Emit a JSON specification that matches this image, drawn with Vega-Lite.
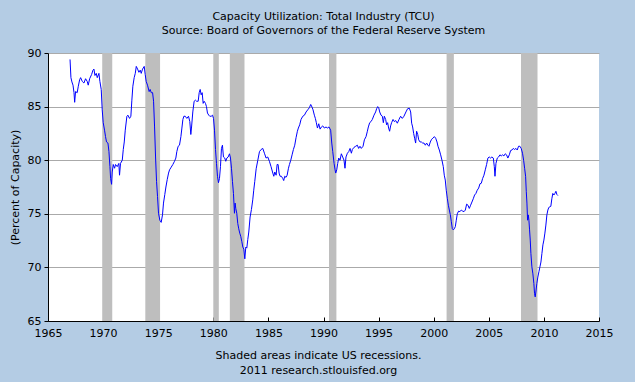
{
 "$schema": "https://vega.github.io/schema/vega-lite/v6.json",
 "width": 551,
 "height": 268,
 "autosize": {"type": "none"},
 "padding": {"left": 48, "top": 53, "right": 36, "bottom": 61},
 "background": "#B4CCE4",
 "config": {"view": {"stroke": null, "fill": "white"}, "font": "DejaVu Sans"},
 "title": {"text": "Capacity Utilization: Total Industry (TCU)", "subtitle": "Source: Board of Governors of the Federal Reserve System", "fontSize": 11, "fontWeight": "normal", "subtitleFontSize": 11, "color": "black", "subtitleColor": "black", "offset": 11, "subtitlePadding": 3, "font": "DejaVu Sans", "subtitleFont": "DejaVu Sans"},
 "datasets": {
  "rec": [
   {"start": 1969.92, "end": 1970.83},
   {"start": 1973.83, "end": 1975.17},
   {"start": 1980.0, "end": 1980.5},
   {"start": 1981.5, "end": 1982.83},
   {"start": 1990.5, "end": 1991.17},
   {"start": 2001.17, "end": 2001.83},
   {"start": 2007.92, "end": 2009.42}
  ],
  "tcu": [
   {"year":1967.00,"value":89.4},{"year":1967.08,"value":87.7},{"year":1967.17,"value":87.3},{"year":1967.27,"value":87.0},{"year":1967.36,"value":86.3},{"year":1967.42,"value":85.4},{"year":1967.50,"value":86.4},{"year":1967.65,"value":86.3},{"year":1967.75,"value":86.9},{"year":1967.87,"value":87.5},{"year":1967.96,"value":87.7},
   {"year":1968.11,"value":87.35},{"year":1968.26,"value":87.2},{"year":1968.41,"value":87.6},{"year":1968.56,"value":87.35},{"year":1968.65,"value":87.0},{"year":1968.78,"value":87.6},{"year":1968.96,"value":88.0},
   {"year":1969.08,"value":88.4},{"year":1969.17,"value":88.5},{"year":1969.26,"value":87.9},{"year":1969.38,"value":88.1},{"year":1969.47,"value":87.7},{"year":1969.62,"value":88.1},{"year":1969.71,"value":87.35},{"year":1969.83,"value":86.6},{"year":1969.92,"value":84.7},
   {"year":1970.01,"value":83.5},{"year":1970.13,"value":82.8},{"year":1970.22,"value":82.2},{"year":1970.31,"value":81.7},{"year":1970.44,"value":81.6},{"year":1970.53,"value":80.8},{"year":1970.62,"value":79.4},{"year":1970.68,"value":78.3},{"year":1970.77,"value":77.75},{"year":1970.83,"value":78.9},{"year":1970.92,"value":79.6},
   {"year":1971.04,"value":79.25},{"year":1971.13,"value":79.6},{"year":1971.28,"value":79.4},{"year":1971.43,"value":79.7},{"year":1971.49,"value":78.6},{"year":1971.58,"value":79.7},{"year":1971.74,"value":80.0},{"year":1971.83,"value":81.0},{"year":1971.92,"value":81.7},
   {"year":1972.01,"value":82.8},{"year":1972.16,"value":84.1},{"year":1972.25,"value":84.2},{"year":1972.40,"value":83.9},{"year":1972.52,"value":84.1},{"year":1972.61,"value":85.6},{"year":1972.70,"value":86.9},{"year":1972.82,"value":87.7},{"year":1972.92,"value":88.1},
   {"year":1973.01,"value":88.75},{"year":1973.13,"value":88.5},{"year":1973.25,"value":88.2},{"year":1973.37,"value":88.4},{"year":1973.46,"value":88.1},{"year":1973.58,"value":88.5},{"year":1973.73,"value":88.75},{"year":1973.82,"value":88.0},{"year":1973.91,"value":87.35},
   {"year":1974.03,"value":87.0},{"year":1974.18,"value":86.4},{"year":1974.27,"value":86.6},{"year":1974.37,"value":86.3},{"year":1974.49,"value":86.3},{"year":1974.58,"value":85.5},{"year":1974.67,"value":83.1},{"year":1974.76,"value":80.3},{"year":1974.85,"value":78.0},{"year":1974.94,"value":76.6},
   {"year":1975.03,"value":75.05},{"year":1975.15,"value":74.4},{"year":1975.27,"value":74.2},{"year":1975.39,"value":74.9},{"year":1975.48,"value":76.0},{"year":1975.60,"value":76.8},{"year":1975.70,"value":77.5},{"year":1975.82,"value":78.2},{"year":1975.94,"value":78.8},
   {"year":1976.03,"value":79.1},{"year":1976.18,"value":79.35},{"year":1976.33,"value":79.6},{"year":1976.48,"value":79.9},{"year":1976.60,"value":80.2},{"year":1976.69,"value":80.8},{"year":1976.81,"value":81.3},{"year":1976.93,"value":81.4},
   {"year":1977.06,"value":82.2},{"year":1977.15,"value":83.0},{"year":1977.24,"value":83.8},{"year":1977.33,"value":84.1},{"year":1977.45,"value":84.1},{"year":1977.60,"value":83.9},{"year":1977.75,"value":84.1},{"year":1977.87,"value":83.6},{"year":1977.96,"value":82.4},
   {"year":1978.02,"value":83.0},{"year":1978.14,"value":84.5},{"year":1978.26,"value":85.5},{"year":1978.38,"value":85.6},{"year":1978.48,"value":85.5},{"year":1978.63,"value":85.5},{"year":1978.72,"value":86.3},{"year":1978.81,"value":86.6},{"year":1978.90,"value":86.1},{"year":1978.99,"value":86.3},
   {"year":1979.08,"value":85.3},{"year":1979.17,"value":85.5},{"year":1979.29,"value":85.3},{"year":1979.38,"value":85.0},{"year":1979.47,"value":84.4},{"year":1979.59,"value":84.2},{"year":1979.68,"value":84.1},{"year":1979.81,"value":84.1},{"year":1979.93,"value":84.2},
   {"year":1980.02,"value":83.9},{"year":1980.11,"value":82.8},{"year":1980.20,"value":81.0},{"year":1980.29,"value":79.7},{"year":1980.38,"value":78.5},{"year":1980.47,"value":77.9},{"year":1980.56,"value":78.3},{"year":1980.65,"value":79.4},{"year":1980.74,"value":81.1},{"year":1980.83,"value":81.4},{"year":1980.92,"value":80.3},
   {"year":1981.04,"value":80.2},{"year":1981.13,"value":79.9},{"year":1981.23,"value":80.2},{"year":1981.35,"value":80.3},{"year":1981.47,"value":80.6},{"year":1981.56,"value":80.2},{"year":1981.65,"value":79.25},{"year":1981.74,"value":78.0},{"year":1981.83,"value":76.9},{"year":1981.92,"value":75.05},{"year":1981.98,"value":76.0},
   {"year":1982.04,"value":75.5},{"year":1982.13,"value":75.05},{"year":1982.22,"value":74.1},{"year":1982.31,"value":73.6},{"year":1982.40,"value":73.2},{"year":1982.49,"value":72.9},{"year":1982.59,"value":72.4},{"year":1982.68,"value":71.9},{"year":1982.77,"value":71.7},{"year":1982.86,"value":70.8},{"year":1982.95,"value":71.9},
   {"year":1983.04,"value":71.8},{"year":1983.13,"value":72.6},{"year":1983.22,"value":73.3},{"year":1983.34,"value":74.7},{"year":1983.46,"value":75.4},{"year":1983.58,"value":76.3},{"year":1983.67,"value":77.2},{"year":1983.76,"value":78.0},{"year":1983.89,"value":79.2},
   {"year":1984.04,"value":80.0},{"year":1984.19,"value":80.8},{"year":1984.34,"value":81.0},{"year":1984.49,"value":81.1},{"year":1984.64,"value":80.65},{"year":1984.79,"value":80.2},{"year":1984.94,"value":80.3},
   {"year":1985.09,"value":79.9},{"year":1985.24,"value":79.4},{"year":1985.40,"value":78.8},{"year":1985.49,"value":78.5},{"year":1985.58,"value":78.9},{"year":1985.70,"value":78.6},{"year":1985.79,"value":79.6},{"year":1985.88,"value":79.6},{"year":1985.97,"value":78.8},
   {"year":1986.06,"value":78.5},{"year":1986.18,"value":78.5},{"year":1986.30,"value":78.3},{"year":1986.39,"value":78.1},{"year":1986.48,"value":78.5},{"year":1986.60,"value":78.4},{"year":1986.70,"value":78.6},{"year":1986.82,"value":79.25},{"year":1986.91,"value":79.6},
   {"year":1987.03,"value":80.0},{"year":1987.15,"value":80.5},{"year":1987.27,"value":81.0},{"year":1987.39,"value":81.4},{"year":1987.51,"value":82.1},{"year":1987.63,"value":82.7},{"year":1987.72,"value":83.0},{"year":1987.84,"value":83.3},{"year":1987.96,"value":83.8},
   {"year":1988.12,"value":84.1},{"year":1988.27,"value":84.2},{"year":1988.42,"value":84.5},{"year":1988.57,"value":84.7},{"year":1988.72,"value":84.9},{"year":1988.84,"value":85.2},{"year":1988.96,"value":84.95},
   {"year":1989.05,"value":84.7},{"year":1989.17,"value":84.2},{"year":1989.26,"value":83.9},{"year":1989.35,"value":83.5},{"year":1989.45,"value":83.0},{"year":1989.57,"value":83.4},{"year":1989.69,"value":82.9},{"year":1989.81,"value":83.1},{"year":1989.93,"value":83.2},
   {"year":1990.08,"value":83.0},{"year":1990.23,"value":83.1},{"year":1990.35,"value":83.0},{"year":1990.50,"value":83.1},{"year":1990.65,"value":82.8},{"year":1990.75,"value":81.6},{"year":1990.84,"value":80.8},{"year":1990.96,"value":79.7},
   {"year":1991.05,"value":79.1},{"year":1991.11,"value":78.8},{"year":1991.20,"value":79.1},{"year":1991.29,"value":79.7},{"year":1991.38,"value":80.2},{"year":1991.50,"value":80.0},{"year":1991.62,"value":80.6},{"year":1991.74,"value":80.3},{"year":1991.86,"value":80.0},{"year":1991.95,"value":79.25},
   {"year":1992.04,"value":80.3},{"year":1992.17,"value":80.65},{"year":1992.29,"value":80.8},{"year":1992.41,"value":81.1},{"year":1992.53,"value":80.65},{"year":1992.62,"value":81.0},{"year":1992.77,"value":81.2},{"year":1992.92,"value":81.3},
   {"year":1993.07,"value":81.4},{"year":1993.19,"value":81.1},{"year":1993.31,"value":81.3},{"year":1993.43,"value":81.1},{"year":1993.59,"value":81.3},{"year":1993.71,"value":81.9},{"year":1993.86,"value":82.2},{"year":1993.98,"value":82.7},
   {"year":1994.07,"value":83.1},{"year":1994.19,"value":83.5},{"year":1994.31,"value":83.6},{"year":1994.43,"value":83.8},{"year":1994.58,"value":84.2},{"year":1994.73,"value":84.5},{"year":1994.82,"value":84.8},{"year":1994.92,"value":85.0},
   {"year":1995.01,"value":84.9},{"year":1995.10,"value":84.5},{"year":1995.22,"value":84.2},{"year":1995.34,"value":84.1},{"year":1995.43,"value":83.5},{"year":1995.52,"value":84.1},{"year":1995.64,"value":83.8},{"year":1995.73,"value":83.3},{"year":1995.82,"value":83.5},{"year":1995.91,"value":83.0},
   {"year":1996.00,"value":82.7},{"year":1996.09,"value":83.2},{"year":1996.18,"value":83.5},{"year":1996.31,"value":83.8},{"year":1996.43,"value":83.6},{"year":1996.55,"value":83.7},{"year":1996.70,"value":83.45},{"year":1996.85,"value":83.8},
   {"year":1997.00,"value":84.1},{"year":1997.15,"value":83.9},{"year":1997.30,"value":84.1},{"year":1997.48,"value":84.5},{"year":1997.63,"value":84.8},{"year":1997.79,"value":84.85},{"year":1997.91,"value":84.5},
   {"year":1998.00,"value":83.45},{"year":1998.09,"value":83.1},{"year":1998.18,"value":82.5},{"year":1998.27,"value":82.05},{"year":1998.36,"value":81.6},{"year":1998.45,"value":82.7},{"year":1998.55,"value":82.4},{"year":1998.64,"value":81.9},{"year":1998.76,"value":81.7},{"year":1998.88,"value":81.7},
   {"year":1999.00,"value":81.6},{"year":1999.12,"value":81.6},{"year":1999.24,"value":81.4},{"year":1999.36,"value":81.6},{"year":1999.48,"value":81.4},{"year":1999.57,"value":81.3},{"year":1999.69,"value":81.7},{"year":1999.81,"value":81.95},{"year":1999.93,"value":82.05},
   {"year":2000.06,"value":82.2},{"year":2000.18,"value":82.05},{"year":2000.30,"value":81.7},{"year":2000.39,"value":81.3},{"year":2000.51,"value":80.95},{"year":2000.63,"value":80.5},{"year":2000.75,"value":80.0},{"year":2000.87,"value":79.4},{"year":2000.96,"value":78.6},
   {"year":2001.05,"value":78.15},{"year":2001.14,"value":77.2},{"year":2001.24,"value":76.4},{"year":2001.33,"value":75.8},{"year":2001.42,"value":75.35},{"year":2001.51,"value":74.9},{"year":2001.60,"value":74.26},{"year":2001.69,"value":73.6},{"year":2001.78,"value":73.5},{"year":2001.87,"value":73.6},{"year":2001.96,"value":73.8},
   {"year":2002.05,"value":74.4},{"year":2002.14,"value":75.0},{"year":2002.26,"value":75.25},{"year":2002.38,"value":75.2},{"year":2002.50,"value":75.35},{"year":2002.63,"value":75.25},{"year":2002.75,"value":75.2},{"year":2002.87,"value":75.35},{"year":2002.99,"value":75.9},
   {"year":2003.11,"value":75.8},{"year":2003.23,"value":75.5},{"year":2003.35,"value":75.8},{"year":2003.47,"value":76.1},{"year":2003.59,"value":76.4},{"year":2003.71,"value":76.75},{"year":2003.83,"value":76.9},{"year":2003.95,"value":77.2},
   {"year":2004.08,"value":77.4},{"year":2004.20,"value":77.8},{"year":2004.32,"value":77.85},{"year":2004.44,"value":78.3},{"year":2004.56,"value":78.6},{"year":2004.68,"value":79.1},{"year":2004.80,"value":79.6},{"year":2004.92,"value":80.2},
   {"year":2005.04,"value":80.3},{"year":2005.16,"value":80.2},{"year":2005.28,"value":80.3},{"year":2005.41,"value":80.2},{"year":2005.50,"value":79.4},{"year":2005.56,"value":78.5},{"year":2005.65,"value":79.7},{"year":2005.77,"value":80.2},{"year":2005.89,"value":80.3},
   {"year":2006.01,"value":80.5},{"year":2006.13,"value":80.4},{"year":2006.25,"value":80.5},{"year":2006.37,"value":80.4},{"year":2006.49,"value":80.6},{"year":2006.61,"value":80.5},{"year":2006.73,"value":80.2},{"year":2006.86,"value":80.5},{"year":2006.98,"value":80.9},
   {"year":2007.10,"value":80.95},{"year":2007.22,"value":81.1},{"year":2007.34,"value":81.0},{"year":2007.46,"value":81.1},{"year":2007.58,"value":80.95},{"year":2007.70,"value":81.3},{"year":2007.82,"value":81.3},{"year":2007.94,"value":81.1},
   {"year":2008.06,"value":80.65},{"year":2008.16,"value":80.0},{"year":2008.25,"value":79.25},{"year":2008.34,"value":78.5},{"year":2008.40,"value":77.1},{"year":2008.46,"value":76.0},{"year":2008.52,"value":74.4},{"year":2008.58,"value":74.9},{"year":2008.64,"value":74.4},{"year":2008.70,"value":73.5},{"year":2008.76,"value":72.55},{"year":2008.82,"value":71.3},{"year":2008.91,"value":70.05},
   {"year":2009.00,"value":69.4},{"year":2009.09,"value":68.5},{"year":2009.15,"value":67.55},{"year":2009.21,"value":67.25},{"year":2009.27,"value":67.7},{"year":2009.36,"value":68.5},{"year":2009.45,"value":69.1},{"year":2009.55,"value":69.6},{"year":2009.64,"value":70.05},{"year":2009.73,"value":70.5},{"year":2009.82,"value":71.3},{"year":2009.91,"value":72.1},
   {"year":2010.00,"value":72.55},{"year":2010.09,"value":73.2},{"year":2010.18,"value":73.95},{"year":2010.27,"value":74.9},{"year":2010.36,"value":75.35},{"year":2010.45,"value":75.6},{"year":2010.54,"value":75.65},{"year":2010.63,"value":75.7},{"year":2010.72,"value":76.4},{"year":2010.81,"value":76.9},{"year":2010.91,"value":76.75},
   {"year":2011.00,"value":76.9},{"year":2011.09,"value":77.1},{"year":2011.18,"value":76.8},{"year":2011.27,"value":76.7}
  ]
 },
 "layer": [
  {
   "data": {"name": "rec"},
   "mark": {"type": "rect", "color": "#BEBEBE"},
   "encoding": {
    "x": {"field": "start", "type": "quantitative", "scale": {"domain": [1965, 2015], "nice": false, "zero": false},
     "axis": {"values": [1965,1970,1975,1980,1985,1990,1995,2000,2005,2010,2015], "format": "d", "grid": false, "tickSize": -4, "domainColor": "black", "tickColor": "black", "labelColor": "black", "labelFontSize": 11, "labelPadding": 10, "labelFlush": false, "labelOverlap": false,
      "title": ["Shaded areas indicate US recessions.", "2011 research.stlouisfed.org"], "titleFontWeight": "normal", "titleFontSize": 11, "titleColor": "black", "titleLineHeight": 15, "titlePadding": 11, "titleX": 270}},
    "x2": {"field": "end"}
   }
  },
  {
   "data": {"name": "tcu"},
   "mark": {"type": "line", "color": "#0000FF", "strokeWidth": 1},
   "encoding": {
    "x": {"field": "year", "type": "quantitative"},
    "y": {"field": "value", "type": "quantitative", "scale": {"domain": [65, 90], "nice": false, "zero": false},
     "axis": {"values": [65,70,75,80,85,90], "title": "(Percent of Capacity)", "grid": true, "gridColor": "#AAAAAA", "gridOpacity": 1, "domainColor": "black", "tickColor": "black", "tickSize": 4, "labelColor": "black", "labelFontSize": 11, "labelPadding": 3, "labelFlush": false, "titleFontSize": 11, "titleFontWeight": "normal", "titleColor": "black", "titlePadding": 7}}
   }
  }
 ]
}
